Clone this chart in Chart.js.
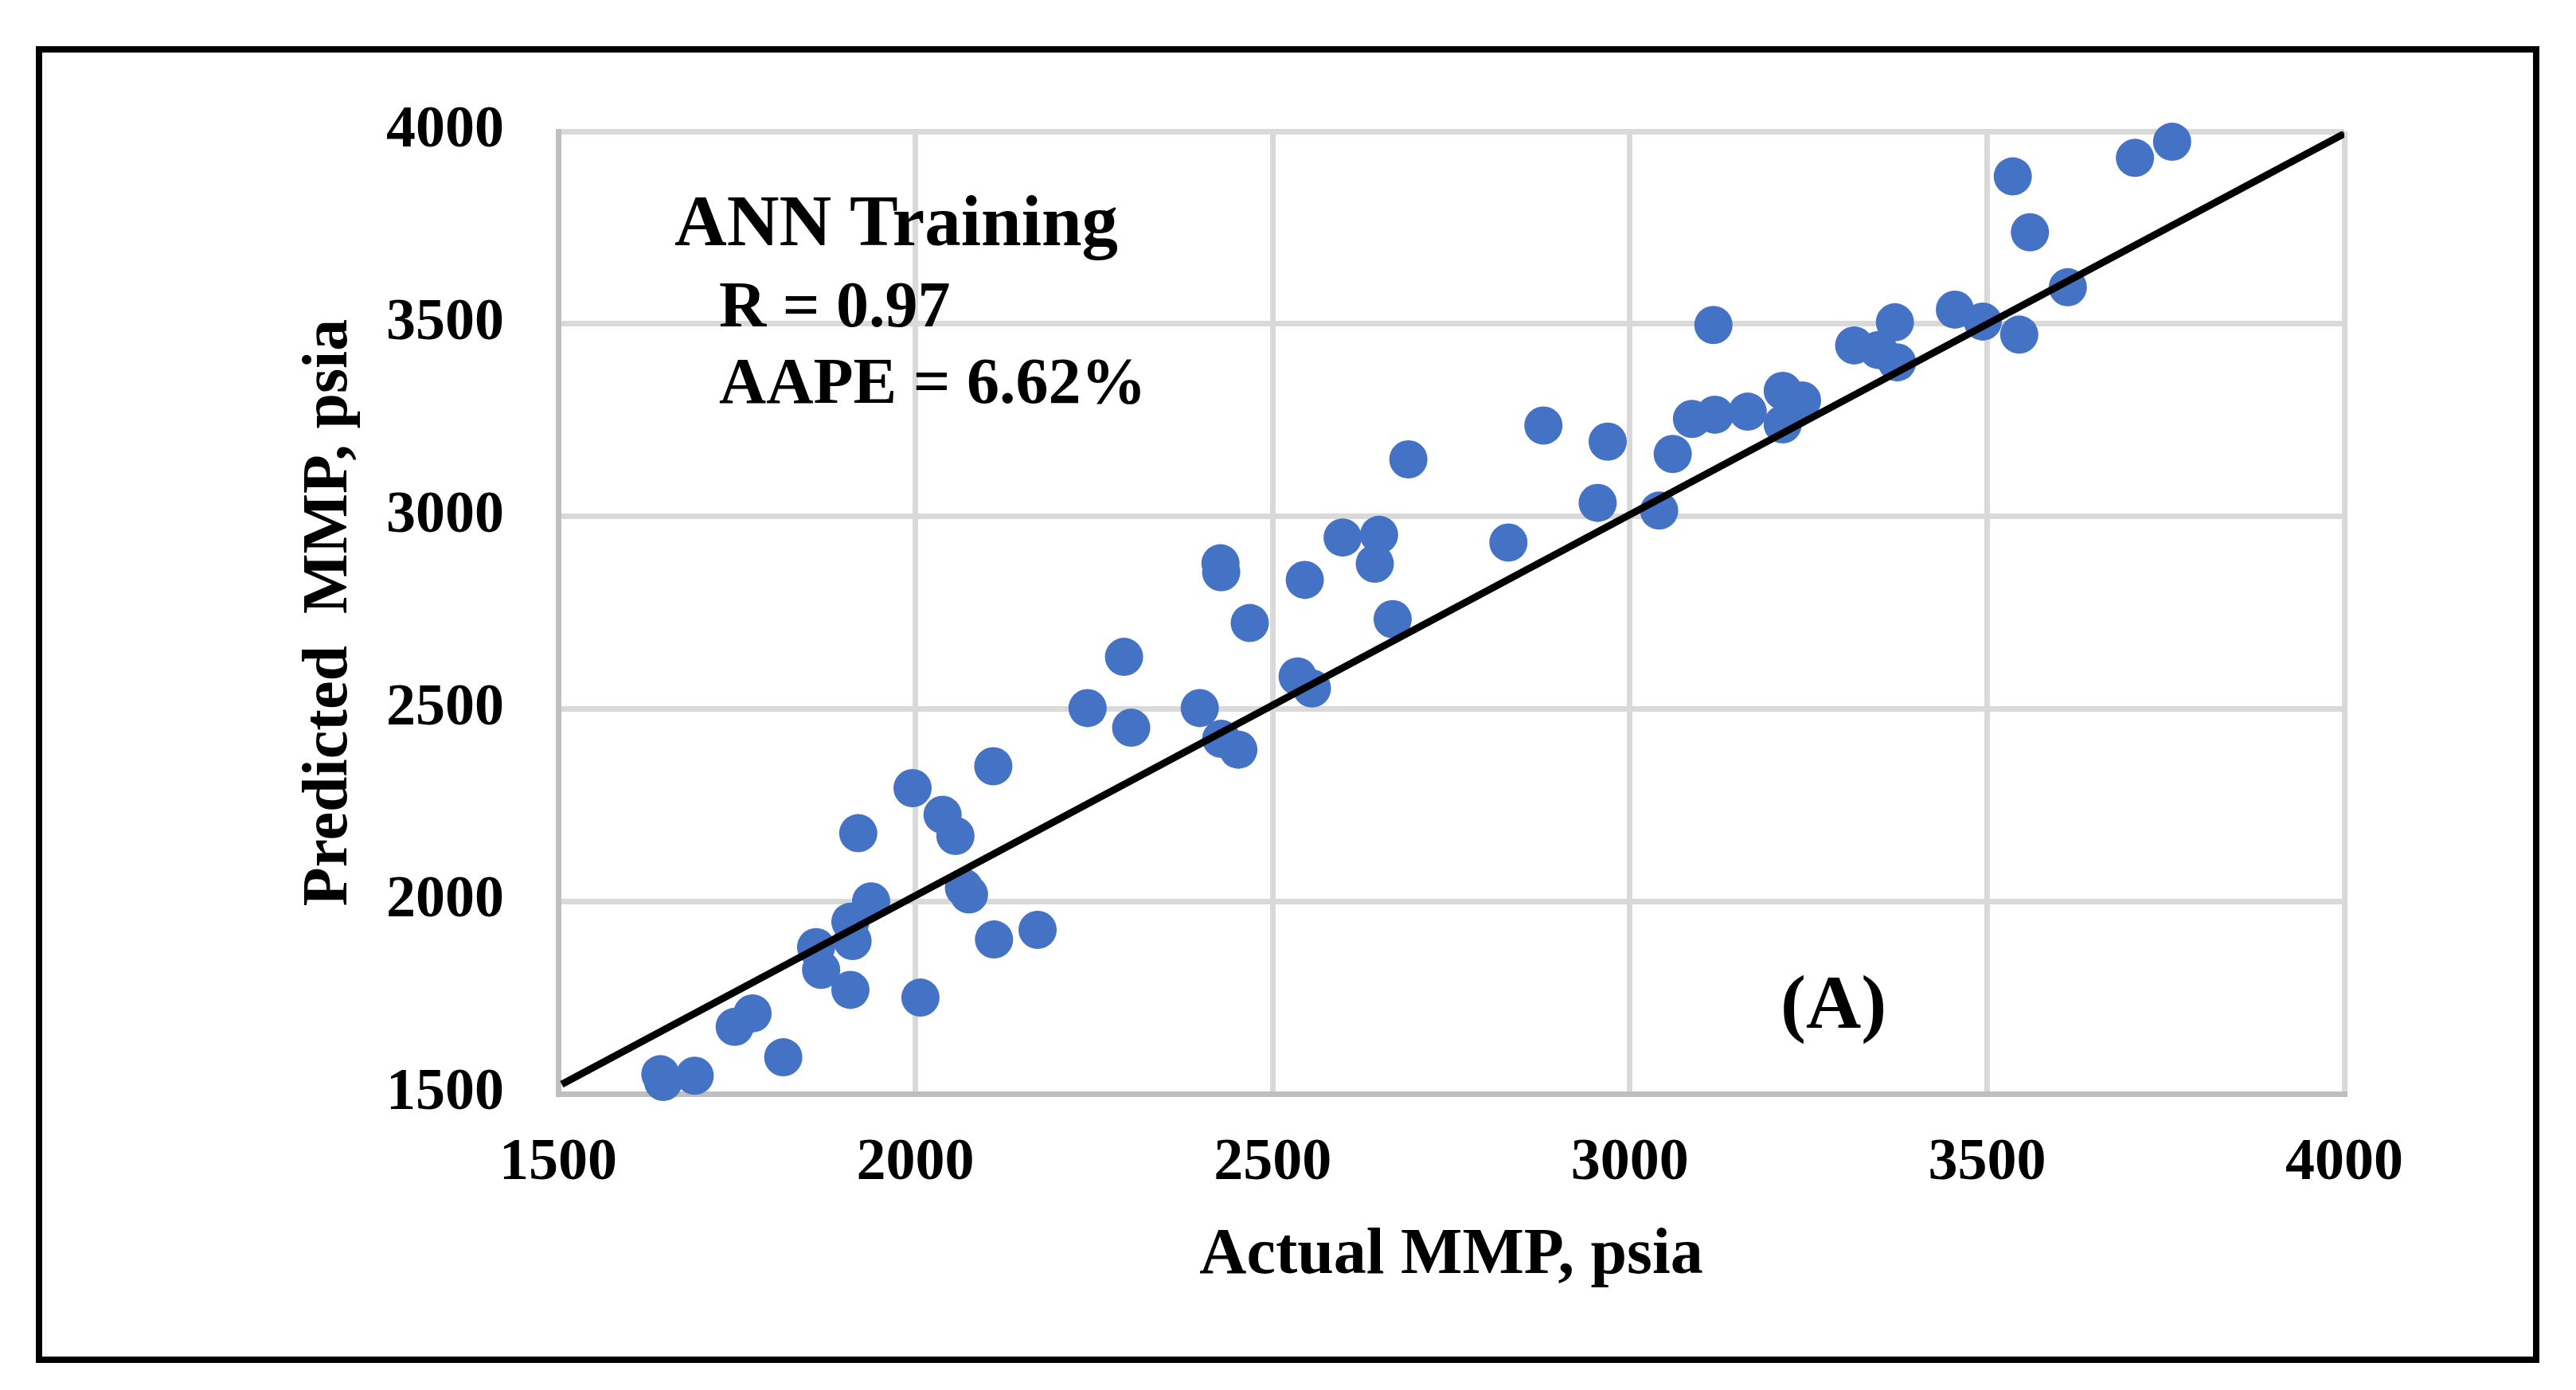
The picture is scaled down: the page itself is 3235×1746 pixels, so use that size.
<!DOCTYPE html>
<html>
<head>
<meta charset="utf-8">
<script src="https://cdn.jsdelivr.net/npm/chart.js@4"></script>
<style>
  html, body { margin: 0; padding: 0; background: #fff; }
  #wrap { width: 3235px; height: 1746px; }
</style>
</head>
<body>
<div id="wrap"><canvas id="c" width="3235" height="1746"></canvas></div>
<script>
// Actual MMP (x) and ANN-predicted MMP (y), psia
const actualMMP = [
  1643, 1647, 1691, 1747, 1772, 1815, 1861, 1868, 1909, 1912, 1909, 1938, 1920, 2007, 1996, 2038,
  2056, 2068, 2075, 2110, 2171, 2109,
  2241, 2302, 2292, 2398, 2428, 2452, 2427, 2428, 2468, 2535, 2555, 2545, 2598, 2649, 2643, 2668,
  2690, 2830,
  3759, 3707, 3536, 3560, 3613, 3545, 3494, 3455, 3371, 3374, 3348, 3314, 3117, 3214, 3241, 3214,
  3165, 3119, 3087, 3060, 3041, 2969, 2955, 2879
];
const predictedMMP = [
  1551, 1531, 1547, 1674, 1709, 1595, 1881, 1822, 1947, 1897, 1770, 2000, 2177, 1750, 2294, 2225,
  2170, 2035, 2018, 1901, 1926, 2351,
  2502, 2451, 2635, 2502, 2422, 2394, 2878, 2855, 2723, 2584, 2553, 2835, 2945, 2952, 2877, 2733,
  3148, 2932,
  3973, 3931, 3883, 3738, 3595, 3472, 3506, 3537, 3504, 3400, 3432, 3444, 3497, 3326, 3301, 3239,
  3272, 3264, 3253, 3162, 3015, 3194, 3035, 3236
];
// fitted line end points
const lineX = [1505, 4000];
const lineY = [1525, 3994];
const tickValues = [1500, 2000, 2500, 3000, 3500, 4000];
const tickLabels = ['1500', '2000', '2500', '3000', '3500', '4000'];
const axisMin = 1500, axisMax = 4000, axisStep = 500;

const scatterData = actualMMP.map((x, i) => ({ x: x, y: predictedMMP[i] }));
const lineData = lineX.map((x, i) => ({ x: x, y: lineY[i] }));

const FONT = '"Liberation Serif", "Times New Roman", serif';

const framePlugin = {
  id: 'frame',
  beforeDraw(chart) {
    const ctx = chart.ctx;
    ctx.save();
    ctx.fillStyle = '#ffffff';
    ctx.fillRect(0, 0, chart.width, chart.height);
    ctx.strokeStyle = '#000000';
    ctx.lineWidth = 8;
    ctx.strokeRect(49, 62, 3136, 1646);
    ctx.restore();
  },
  afterDraw(chart) {
    const ctx = chart.ctx;
    ctx.save();
    ctx.fillStyle = '#000000';
    ctx.textBaseline = 'alphabetic';
    ctx.textAlign = 'left';
    ctx.font = 'bold 91px ' + FONT;
    ctx.fillText('ANN Training', 847, 308);
    ctx.font = 'bold 82px ' + FONT;
    ctx.fillText('R = 0.97', 903, 410);
    ctx.fillText('AAPE = 6.62%', 903, 506);
    ctx.font = 'bold 96px ' + FONT;
    ctx.fillText('(A)', 2236, 1291);
    ctx.restore();
  }
};

const tickLabel = (v) => {
  const i = tickValues.indexOf(v);
  return i >= 0 ? tickLabels[i] : String(v);
};

new Chart(document.getElementById('c'), {
  data: {
    datasets: [
      {
        type: 'line',
        data: lineData,
        borderColor: '#000000',
        borderWidth: 9,
        pointRadius: 0,
        fill: false,
        order: 0
      },
      {
        type: 'scatter',
        data: scatterData,
        backgroundColor: '#4472C4',
        borderWidth: 0,
        pointRadius: 24,
        pointHoverRadius: 24,
        clip: false,
        order: 1
      }
    ]
  },
  options: {
    responsive: false,
    devicePixelRatio: 1,
    animation: false,
    events: [],
    layout: { padding: { top: 165, right: 291, bottom: 0, left: 0 } },
    plugins: { legend: { display: false }, tooltip: { enabled: false } },
    scales: {
      x: {
        type: 'linear',
        min: axisMin, max: axisMax,
        afterBuildTicks(scale) { scale.ticks = tickValues.map(v => ({ value: v })); },
        ticks: { stepSize: axisStep, color: '#000', padding: 43, callback: tickLabel,
                 font: { family: FONT, size: 74, weight: 'bold' } },
        grid: { color: '#D9D9D9', lineWidth: 7, drawTicks: false },
        border: { color: '#BFBFBF', width: 7 },
        title: { display: true, text: 'Actual MMP, psia', color: '#000',
                 font: { family: FONT, size: 82, weight: 'bold' }, padding: { top: 0, bottom: 119 } },
        afterFit(scale) { scale.height = 372; }
      },
      y: {
        type: 'linear',
        min: axisMin, max: axisMax,
        afterBuildTicks(scale) { scale.ticks = tickValues.map(v => ({ value: v })); },
        ticks: { stepSize: axisStep, color: '#000', padding: 68, callback: tickLabel,
                 font: { family: FONT, size: 74, weight: 'bold' } },
        grid: { color: '#D9D9D9', lineWidth: 7, drawTicks: false },
        border: { color: '#BFBFBF', width: 7 },
        title: { display: true, text: 'Predicted  MMP, psia', color: '#000',
                 font: { family: FONT, size: 80, weight: 'bold' }, padding: { top: 366, bottom: 0 } },
        afterFit(scale) { scale.width = 701; }
      }
    }
  },
  plugins: [framePlugin]
});
</script>
</body>
</html>
